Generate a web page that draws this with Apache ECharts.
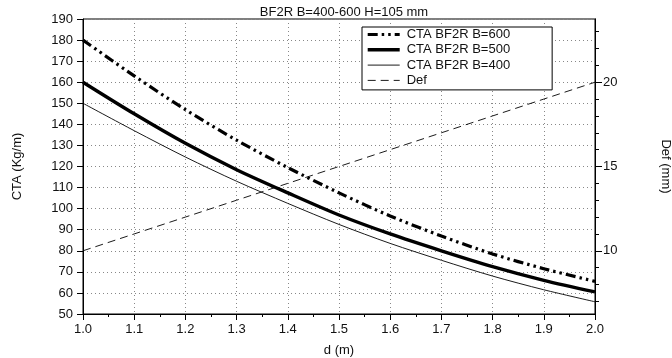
<!DOCTYPE html>
<html>
<head>
<meta charset="utf-8">
<script src="https://cdn.jsdelivr.net/npm/echarts@6/dist/echarts.min.js"></script>
<style>html,body{margin:0;padding:0;background:#fff}#c{width:672px;height:358px}</style>
</head>
<body>
<div id="c"></div>
<script>
var dValues = [1.0, 1.1, 1.2, 1.3, 1.4, 1.5, 1.6, 1.7, 1.8, 1.9, 2.0];
var cta600 = [180, 163, 147, 132.5, 119.5, 107.5, 96.5, 87, 78.5, 71.5, 65.5];
var cta500 = [160, 145, 131, 118.5, 107.5, 97, 88, 80, 72.5, 66, 60.5];
var cta400 = [150, 137, 124.5, 113, 102.5, 92.5, 83.5, 75.5, 68, 61.5, 55.8];
var defMM = [10, 11, 12, 13, 14, 15, 16, 17, 18, 19, 20];
var rightLabels = [10, 15, 20];
var rightMinor = [7, 8, 9, 10, 11, 12, 13, 14, 15, 16, 17, 18, 19, 20, 21, 22, 23];
var names = ['CTA BF2R B=600', 'CTA BF2R B=500', 'CTA BF2R B=400', 'Def'];

function pairs(ys) { return dValues.map(function (d, i) { return [d, ys[i]]; }); }

var FONT = 'Liberation Sans';
var FS = 13;
var chart = echarts.init(document.getElementById('c'));
var rightBase = {
  type: 'value', position: 'right', min: 6.25, max: 23.75,
  axisLine: { show: true, onZero: false, lineStyle: { color: '#000', width: 1 } },
  splitLine: { show: false }
};
var lineStyles = [
  { color: '#000', width: 3.2, type: [10, 4, 2.5, 4, 2.5, 4] },
  { color: '#000', width: 3.4, type: 'solid' },
  { color: '#000', width: 0.9, type: 'solid' },
  { color: '#000', width: 0.9, type: [8, 5] }
];
chart.setOption({
  animation: false,
  textStyle: { fontFamily: FONT },
  title: {
    text: 'BF2R B=400-600 H=105 mm', left: 339, textAlign: 'center', top: 1,
    textStyle: { fontSize: FS, fontWeight: 'normal', color: '#111', fontFamily: FONT }
  },
  grid: { left: 83, right: 77, top: 19, bottom: 44, show: true, borderColor: '#000', borderWidth: 1,
          containLabel: false, outerBoundsMode: 'none' },
  legend: {
    orient: 'vertical', left: 362, top: 27,
    data: names.map(function (n, i) { return { name: n, lineStyle: lineStyles[i] }; }),
    backgroundColor: '#fff', borderColor: '#000', borderWidth: 1,
    padding: [1, 42, 3, 4], itemWidth: 32, itemHeight: 14, itemGap: 2.3,
    itemStyle: { opacity: 0 },
    textStyle: { fontSize: FS, color: '#111', fontFamily: FONT, padding: [0, 0, 0, 2] }
  },
  xAxis: {
    type: 'value', min: 1, max: 2, interval: 0.1,
    name: 'd (m)', nameLocation: 'middle', nameGap: 30,
    nameTextStyle: { fontSize: FS, color: '#111' },
    axisLine: { show: true, onZero: false, lineStyle: { color: '#000' } },
    axisTick: { show: true, inside: false, length: 6, lineStyle: { color: '#000', width: 1 } },
    minorTick: { show: true, splitNumber: 2, length: 3, lineStyle: { color: '#000', width: 1 } },
    axisLabel: { fontSize: FS, color: '#111', margin: 9, formatter: function (v) { return v.toFixed(1); } },
    splitLine: { show: true, lineStyle: { color: '#888', type: [1, 3], width: 1 } }
  },
  yAxis: [
    {
      type: 'value', min: 50, max: 190, interval: 10,
      name: 'CTA (Kg/m)', nameLocation: 'middle', nameGap: 59,
      nameTextStyle: { fontSize: FS, color: '#111' },
      axisLine: { show: true, onZero: false, lineStyle: { color: '#000' } },
      axisTick: { show: true, inside: false, length: 6, lineStyle: { color: '#000', width: 1 } },
      axisLabel: { fontSize: FS, color: '#111', margin: 10 },
      splitLine: { show: true, lineStyle: { color: '#888', type: [1, 3], width: 1 } }
    },
    Object.assign({}, rightBase, {
      axisTick: { show: true, length: 4, customValues: rightMinor, lineStyle: { color: '#000' } },
      axisLabel: { show: false }
    }),
    Object.assign({}, rightBase, {
      name: 'Def (mm)', nameLocation: 'middle', nameGap: 64, nameRotate: -90,
      nameTextStyle: { fontSize: FS, color: '#111' },
      axisTick: { show: true, length: 7, customValues: rightLabels, lineStyle: { color: '#000' } },
      axisLabel: { fontSize: FS, color: '#111', margin: 8, customValues: rightLabels }
    })
  ],
  series: [
    { name: names[0], type: 'line', yAxisIndex: 0, data: pairs(cta600), smooth: 0.3, symbol: 'none', color: '#000',
      lineStyle: lineStyles[0] },
    { name: names[1], type: 'line', yAxisIndex: 0, data: pairs(cta500), smooth: 0.3, symbol: 'none', color: '#000',
      lineStyle: lineStyles[1] },
    { name: names[2], type: 'line', yAxisIndex: 0, data: pairs(cta400), smooth: 0.3, symbol: 'none', color: '#000',
      lineStyle: lineStyles[2] },
    { name: names[3], type: 'line', yAxisIndex: 2, data: pairs(defMM), symbol: 'none', color: '#000',
      lineStyle: lineStyles[3] }
  ]
});
</script>
</body>
</html>
